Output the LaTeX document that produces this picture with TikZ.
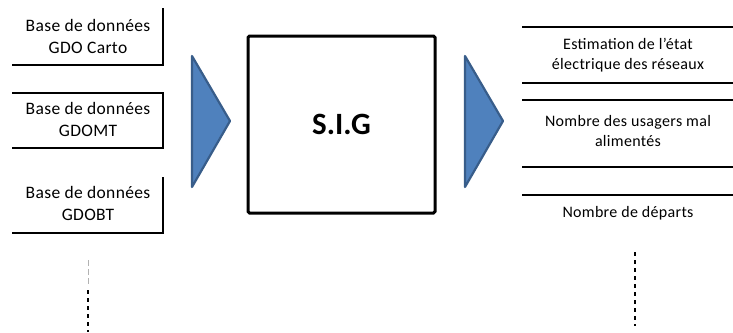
\documentclass[tikz,border=0pt]{standalone}
\usepackage{fontspec}
\setmainfont{Carlito}
\newfontfamily\labelfont[LetterSpace=2]{Carlito}
\definecolor{arrowfill}{HTML}{4F81BD}
\definecolor{arrowedge}{HTML}{385D8A}
\begin{document}
\begin{tikzpicture}[x=1pt,y=-1pt,
  frame/.style={line width=1.6pt,black},
  rule/.style={line width=1.6pt,black},
  chevron/.style={fill=arrowfill,draw=arrowedge,line width=2.2pt,line join=round},
  lbl/.style={align=center,font=\labelfont\fontsize{17.5}{22}\selectfont,inner sep=0pt},
  rlbl/.style={align=center,font=\labelfont\fontsize{16}{19.5}\selectfont,inner sep=0pt},
  mainbox/.style={draw,line width=3pt,rounded corners=1.5pt},
  leader/.style={line width=1.2pt,dash pattern=on 4pt off 4pt}]
\useasboundingbox (0,0) rectangle (733,332);

% input databases (boxes open on the left)
\draw[frame] (163,8) -- (163,65) -- (12,65);
\draw[frame] (12,93) -- (163,93) -- (163,148) -- (12,148);
\draw[frame] (163,177) -- (163,233) -- (12,233);
\node[lbl] (db1) at (88,36) {Base de données\\GDO Carto};
\node[lbl] (db2) at (88,119.5) {Base de données\\GDOMT};
\node[lbl] (db3) at (88,203.5) {Base de données\\GDOBT};

% flow chevrons
\draw[chevron] (192,56) -- (230,121) -- (192,187) -- cycle;
\draw[chevron] (465,56) -- (503,121) -- (465,187) -- cycle;

% central system
\node[mainbox,minimum width=187pt,minimum height=177pt,
  font=\bfseries\fontsize{31}{36}\selectfont] (sig) at (341.5,124.5) {S.I.G};

% outputs (separated by horizontal rules)
\draw[rule] (522,27) -- (733,27);
\draw[rule] (522,83) -- (733,83);
\draw[rule] (522,100) -- (733,100);
\draw[rule] (522,167) -- (733,167);
\draw[rule] (522,195) -- (733,195);
\node[rlbl] (out1) at (628,55) {Estimation de l’état\\électrique des réseaux};
\node[rlbl] (out2) at (628,131) {Nombre des usagers mal\\alimentés};
\node[rlbl] (out3) at (628,213) {Nombre de départs};

% continuation leaders
\coordinate (la) at (88,260);
\coordinate (lb) at (88,285);
\coordinate (lc) at (88,290);
\coordinate (ld) at (88,332);
\draw[gray!60,line width=0.6pt,dash pattern=on 6pt off 3pt] (la) -- (lb);
\draw[leader] (lc) -- (ld);
\coordinate (ra) at (635,252);
\coordinate (rb) at (635,326);
\draw[leader] (ra) -- (rb);
\end{tikzpicture}
\end{document}
